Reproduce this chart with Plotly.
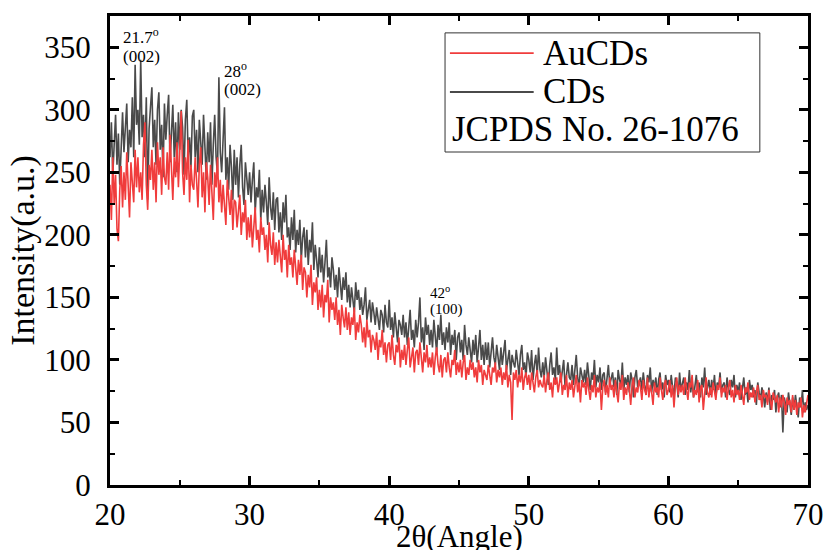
import plotly.graph_objects as go

# 2-theta scan grid (uniform instrument step of 0.1 degree, 20..70)
two_theta = [round(20 + 0.1 * i, 1) for i in range(501)]

# CDs intensity (a.u.), 10 points per degree
cds = [
    262, 290, 248, 275, 296, 256, 281, 240, 270, 298,
    266, 292, 305, 258, 284, 270, 310, 262, 336, 288,
    300, 272, 340, 278, 296, 262, 310, 228, 285, 302,
    318, 270, 292, 256, 300, 314, 268, 288, 246, 305,
    276, 296, 312, 258, 282, 304, 262, 290, 250, 298,
    268, 300, 286, 248, 292, 308, 262, 278, 254, 295,
    300, 262, 284, 250, 292, 270, 256, 296, 266, 244,
    282, 258, 290, 240, 272, 296, 262, 248, 326, 266,
    250, 278, 302, 244, 262, 236, 272, 254, 228, 268,
    240, 262, 230, 256, 272, 238, 224, 258, 246, 232,
    250, 226, 244, 258, 218, 238, 230, 252, 212, 236,
    218, 240, 226, 208, 246, 222, 212, 234, 204, 228,
    230, 202, 218, 196, 226, 210, 232, 198, 206, 188,
    214, 196, 220, 186, 204, 192, 212, 180, 198, 206,
    182, 204, 176, 196, 186, 210, 172, 192, 180, 166,
    190, 170, 184, 162, 178, 196, 166, 174, 158, 182,
    172, 156, 168, 150, 174, 160, 148, 166, 156, 170,
    146, 160, 142, 158, 150, 138, 162, 148, 156, 140,
    150, 136, 144, 158, 132, 140, 148, 130, 146, 138,
    128, 142, 132, 124, 140, 136, 122, 144, 130, 126,
    148, 124, 134, 118, 138, 126, 114, 132, 128, 120,
    136, 118, 130, 112, 128, 140, 116, 124, 110, 132,
    118, 130, 150, 114, 126, 108, 134, 120, 128, 112,
    124, 110, 132, 118, 106, 128, 116, 136, 112, 122,
    108, 126, 114, 130, 104, 120, 112, 124, 100, 118,
    122, 106, 116, 100, 128, 112, 104, 118, 110, 98,
    116, 104, 120, 98, 110, 124, 100, 112, 96, 114,
    100, 114, 94, 108, 118, 102, 96, 112, 104, 92,
    110, 96, 106, 116, 92, 102, 108, 88, 104, 98,
    94, 108, 100, 88, 104, 112, 92, 98, 86, 106,
    100, 90, 108, 84, 96, 104, 88, 110, 92, 86,
    98, 86, 102, 92, 80, 96, 106, 88, 94, 84,
    110, 88, 96, 82, 92, 100, 78, 90, 98, 86,
    84, 96, 80, 92, 104, 86, 78, 94, 88, 82,
    92, 80, 98, 86, 76, 90, 84, 100, 78, 88,
    82, 94, 76, 88, 90, 74, 86, 96, 80, 84,
    90, 78, 86, 72, 92, 84, 80, 98, 76, 86,
    80, 88, 74, 90, 84, 70, 86, 92, 78, 82,
    86, 76, 90, 80, 72, 88, 82, 94, 74, 84,
    78, 86, 72, 84, 90, 76, 82, 70, 88, 80,
    84, 74, 88, 78, 72, 86, 82, 70, 90, 76,
    80, 86, 72, 82, 76, 92, 74, 84, 70, 80,
    88, 74, 82, 70, 86, 78, 94, 72, 80, 84,
    72, 84, 76, 88, 70, 82, 78, 90, 74, 80,
    82, 70, 86, 76, 72, 84, 78, 88, 70, 80,
    74, 82, 68, 80, 86, 72, 78, 66, 84, 76,
    80, 70, 76, 64, 82, 74, 68, 78, 72, 62,
    74, 66, 78, 60, 72, 68, 76, 58, 70, 74,
    62, 72, 42, 70, 64, 58, 74, 66, 56, 70,
    60, 72, 64, 54, 70, 62, 76, 58, 66, 60,
    64,
]

# AuCDs intensity (a.u.)
aucds = [
    240, 212, 262, 225, 248, 205, 195, 236, 255, 222,
    250, 228, 266, 236, 214, 258, 242, 226, 268, 238,
    262, 234, 250, 228, 272, 290, 240, 220, 256, 244,
    268, 236, 258, 226, 274, 248, 262, 232, 270, 246,
    240, 266, 236, 280, 254, 228, 262, 246, 274, 238,
    268, 299, 250, 232, 262, 244, 276, 226, 256, 240,
    236, 262, 244, 222, 256, 270, 230, 250, 218, 258,
    246, 224, 256, 232, 212, 250, 238, 262, 226, 244,
    218, 240, 226, 208, 244, 230, 216, 236, 204, 228,
    226, 206, 222, 232, 200, 218, 210, 228, 196, 214,
    198, 216, 190, 210, 222, 196, 204, 186, 214, 200,
    206, 188, 200, 178, 210, 192, 184, 202, 176, 194,
    178, 196, 184, 170, 200, 180, 188, 166, 192, 176,
    182, 166, 188, 172, 160, 180, 168, 184, 156, 174,
    170, 150, 168, 158, 176, 144, 162, 154, 166, 140,
    156, 142, 160, 134, 152, 146, 164, 130, 150, 140,
    146, 132, 150, 128, 140, 120, 144, 134, 126, 142,
    124, 138, 120, 134, 128, 142, 116, 130, 122, 136,
    128, 114, 126, 110, 132, 118, 124, 106, 120, 116,
    108, 122, 100, 116, 110, 124, 104, 114, 98, 112,
    114, 100, 120, 104, 96, 112, 106, 118, 94, 108,
    100, 112, 96, 108, 118, 94, 104, 110, 90, 106,
    108, 96, 114, 100, 90, 106, 98, 112, 94, 102,
    94, 106, 88, 102, 110, 96, 90, 104, 86, 100,
    102, 90, 106, 94, 86, 100, 96, 108, 88, 98,
    90, 100, 86, 98, 104, 84, 94, 88, 100, 92,
    98, 86, 94, 82, 100, 90, 96, 80, 92, 88,
    84, 96, 88, 80, 94, 90, 98, 82, 92, 86,
    94, 80, 90, 84, 96, 78, 88, 82, 52, 90,
    84, 92, 78, 88, 82, 94, 76, 86, 90, 80,
    88, 76, 90, 82, 74, 86, 92, 78, 84, 80,
    78, 88, 74, 84, 90, 76, 82, 70, 86, 80,
    86, 74, 82, 90, 72, 80, 76, 88, 70, 82,
    76, 84, 70, 80, 88, 74, 82, 66, 84, 78,
    82, 72, 86, 76, 68, 80, 74, 88, 70, 78,
    74, 82, 60, 78, 84, 72, 80, 70, 86, 76,
    80, 70, 84, 74, 66, 82, 76, 88, 68, 78,
    72, 82, 76, 64, 80, 86, 70, 78, 74, 84,
    78, 68, 84, 76, 72, 86, 70, 80, 74, 64,
    82, 74, 78, 70, 86, 76, 68, 80, 84, 72,
    76, 84, 70, 80, 62, 78, 86, 72, 80, 74,
    80, 72, 86, 76, 68, 82, 78, 88, 70, 76,
    72, 84, 66, 78, 80, 60, 76, 86, 74, 70,
    78, 70, 82, 74, 68, 80, 76, 86, 70, 78,
    74, 80, 68, 78, 84, 70, 76, 66, 80, 72,
    76, 68, 80, 72, 64, 78, 74, 82, 68, 74,
    70, 78, 66, 74, 80, 68, 72, 62, 76, 70,
    72, 64, 76, 68, 60, 74, 70, 66, 72, 58,
    70, 62, 72, 66, 56, 70, 64, 68, 58, 72,
    60, 68, 56, 66, 62, 70, 54, 64, 58, 66,
    72,
]

series_names = ["AuCDs", "CDs"]
series_colors = {"AuCDs": "#F03C3C", "CDs": "#4A4A4A"}
legend_note = "JCPDS No. 26-1076"
x_title = "2θ(Angle)"
y_title = "Intensity(a.u.)"

# peak labels: (angle, y of first line, y of second line, text1, text2)
peak_labels = [
    (20.8, 359, 343, "21.7<sup>o</sup>", "(002)"),
    (28.0, 332, 316, "28<sup>o</sup>", "(002)"),
    (42.8, 154, 140, "42<sup>o</sup>", "(100)"),
]

FONT = "Liberation Serif, Times New Roman, serif"

fig = go.Figure()
fig.add_trace(go.Scatter(x=two_theta, y=cds, mode="lines", name="CDs",
                         line=dict(color=series_colors["CDs"], width=1.6)))
fig.add_trace(go.Scatter(x=two_theta, y=aucds, mode="lines", name="AuCDs",
                         line=dict(color=series_colors["AuCDs"], width=1.6)))

annotations = []
for i, (ax_x, y1, y2, t1, t2) in enumerate(peak_labels):
    fs = 17 if i < 2 else 15
    annotations.append(dict(x=ax_x, y=y1, xref="x", yref="y", text=t1, showarrow=False,
                            xanchor="left", yanchor="middle",
                            font=dict(family=FONT, size=fs, color="black")))
    annotations.append(dict(x=ax_x, y=y2, xref="x", yref="y", text=t2, showarrow=False,
                            xanchor="left", yanchor="middle",
                            font=dict(family=FONT, size=fs, color="black")))

# manual legend
lx0, lx1 = 0.487, 0.607
rows_y = [0.921, 0.838]
shapes = [dict(type="rect", xref="paper", yref="paper", x0=0.48, x1=0.931, y0=0.71, y1=0.964,
               line=dict(color="#333333", width=1), fillcolor="white", layer="above")]
for name, yy in zip(series_names, rows_y):
    shapes.append(dict(type="line", xref="paper", yref="paper", x0=lx0, x1=lx1, y0=yy, y1=yy,
                       line=dict(color=series_colors[name], width=1.8), layer="above"))
    annotations.append(dict(x=0.618, y=yy, xref="paper", yref="paper", text=name, showarrow=False,
                            xanchor="left", yanchor="middle",
                            font=dict(family=FONT, size=35, color="black")))
annotations.append(dict(x=0.487, y=0.757, xref="paper", yref="paper", text=legend_note,
                        showarrow=False, xanchor="left", yanchor="middle",
                        font=dict(family=FONT, size=35, color="black")))

# x-axis title placed just under the tick labels (slightly below the page edge, as in the original)
annotations.append(dict(x=0.5, y=-0.11, xref="paper", yref="paper", text=x_title,
                        showarrow=False, xanchor="center", yanchor="middle",
                        font=dict(family=FONT, size=31, color="black")))

axis_common = dict(showgrid=False, zeroline=False, showline=True, linewidth=3, linecolor="black",
                   mirror="allticks", ticks="inside", ticklen=9, tickwidth=2.5, tickcolor="black",
                   tickfont=dict(family=FONT, size=31, color="black"))

fig.update_layout(
    width=830, height=550,
    margin=dict(l=110, r=22, t=16, b=65),
    paper_bgcolor="white", plot_bgcolor="white",
    showlegend=False,
    xaxis=dict(range=[20, 70], dtick=10, tick0=20,
               minor=dict(dtick=5, ticks="inside", ticklen=5, tickwidth=2, tickcolor="black"),
               **axis_common),
    yaxis=dict(range=[0, 375], dtick=50, tick0=0,
               minor=dict(dtick=25, ticks="inside", ticklen=5, tickwidth=2, tickcolor="black"),
               title=dict(text=y_title, font=dict(family=FONT, size=34, color="black"), standoff=0),
               ticklabelstandoff=10,
               **axis_common),
    annotations=annotations,
    shapes=shapes,
)
fig.update_xaxes(automargin=False)
fig.update_yaxes(automargin=False)

fig.write_html("out.html", config={"displayModeBar": False},
               post_script="document.body.style.margin='0px';")
